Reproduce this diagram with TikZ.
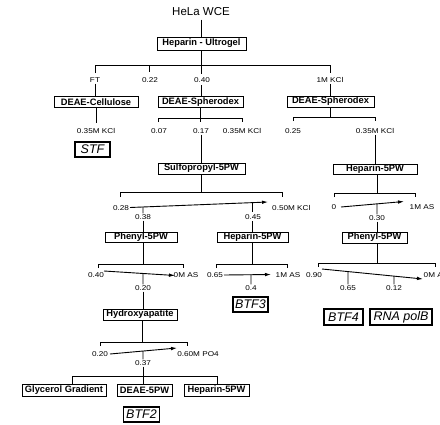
\documentclass[tikz,border=0pt]{standalone}
\usepackage{fontspec}
\setmainfont{Liberation Sans}
\newfontfamily\lblfont[FakeStretch=1.17]{Liberation Sans}
\usetikzlibrary{arrows.meta,calc}
\tikzset{
  col/.style={draw, line width=1pt, inner sep=0pt, minimum height=11pt,
    font=\fontsize{9.3}{10}\selectfont\bfseries},
  fraction/.style={draw, line width=1.4pt, inner sep=0pt, minimum height=15pt,
    font=\fontsize{12.5}{13}\selectfont\itshape},
  lbl/.style={inner sep=1pt, font=\lblfont\fontsize{7}{8}\selectfont},
  link/.style={line width=0.9pt},
  grad/.style={line width=0.9pt, -{Latex[length=6pt,width=3.6pt]}},
}
\begin{document}
\begin{tikzpicture}[x=1pt,y=-1pt]
\useasboundingbox (0,0) rectangle (440,424);

% ---------- extract and first column ----------
\node[font=\fontsize{11.5}{12}\selectfont] (wce) at (201,12) {HeLa WCE};
\node[col, minimum width=89pt, minimum height=13pt] (hu) at (201.5,43.5) {Heparin - Ultrogel};
\draw[link] (wce.south) -- (wce.south |- hu.north);

\coordinate (t1) at (95,65);
\coordinate (t2) at (149,65);
\coordinate (t4) at (330,65);
\draw[link] (hu.south) -- (hu.south |- t1) -- ++(0,9);
\draw[link] ([yshift=-8pt]t1) -- (t1) -- (t4) -- ([yshift=-8pt]t4);
\draw[link] (t2) -- ++(0,7);

\node[lbl] (ft) at (95,80) {FT};
\node[lbl] (l022) at (150,80) {0.22};
\node[lbl] (l040) at (202,80) {0.40};
\node[lbl] (l1m) at (330,80) {1M KCl};

\node[col, minimum width=84pt] (dc) at (96,102) {DEAE-Cellulose};
\node[col, minimum width=85pt] (dsm) at (200.5,102) {DEAE-Spherodex};
\node[col, minimum width=87pt] (dsr) at (330.5,101.5) {DEAE-Spherodex};
\draw[link] (ft.south) -- (ft.south |- dc.north);
\draw[link] (201,85) coordinate (c040) -- (c040 |- dsm.north);
\draw[link] (l1m.south) -- (l1m.south |- dsr.north);

% DEAE-Cellulose flow-through
\node[lbl] (la035) at (96,131) {0.35M KCl};
\draw[link] (dc.south) -- ([yshift=4pt]la035.north);
\node[fraction, minimum width=35pt] (stf) at (92.5,149.5) {STF};

% ---------- middle DEAE-Spherodex ----------
\coordinate (m1) at (158,118);
\coordinate (m3) at (242,118);
\draw[link] (dsm.south) -- (dsm.south |- m1) -- ++(0,4);
\draw[link] ([yshift=-4pt]m1) -- (m1) -- (m3) -- ([yshift=-4pt]m3);
\node[lbl] (l007) at (159,131) {0.07};
\node[lbl] (l017) at (201,131) {0.17};
\node[lbl] (lb035) at (242,131) {0.35M KCl};

\node[col, minimum width=87pt] (sp) at (201.5,168.5) {Sulfopropyl-5PW};
\draw[link] (l017.south) -- (l017.south |- sp.north);

% ---------- right DEAE-Spherodex ----------
\coordinate (r1) at (293,117);
\coordinate (r2) at (375,117);
\draw[link] (dsr.south) -- (dsr.south |- r1);
\draw[link] ([yshift=-4pt]r1) -- (r1) -- (r2) -- ([yshift=-4pt]r2);
\node[lbl] (l025) at (293,131) {0.25};
\node[lbl] (lc035) at (375,131) {0.35M KCl};

\node[col, minimum width=84pt, minimum height=10pt] (hr) at (375,169.5) {Heparin-5PW};
\draw[link] (lc035.south) -- (lc035.south |- hr.north);

% ---------- Sulfopropyl-5PW gradient ----------
\coordinate (s1) at (120,192);
\coordinate (s2) at (282,192);
\draw[link] (sp.south) -- (sp.south |- s1);
\draw[link] ([yshift=-5pt]s1) -- (s1) -- (s2) -- ([yshift=-5pt]s2);
\node[lbl] (l028) at (121,208) {0.28};
\node[lbl, anchor=west] (l050) at (271,208) {0.50M KCl};
\coordinate (ga1s) at (130,207.5);
\coordinate (ga1e) at (268,202);
\draw[grad] (ga1s) -- (ga1e);
\node[lbl] (l038) at (143,217) {0.38};
\node[lbl] (l045) at (253,217) {0.45};
\draw[link] ($(ga1s)!0.094!(ga1e)$) -- (l038.north);
\draw[link] ($(ga1s)!0.884!(ga1e)$) -- ++(0,9);

\node[col, minimum width=72pt, minimum height=10pt] (phl) at (141,237.5) {Phenyl-5PW};
\node[col, minimum width=71pt, minimum height=10pt] (hm) at (252.5,237.5) {Heparin-5PW};
\draw[link] (l038.south) -- (l038.south |- phl.north);
\draw[link] (252,221) coordinate (c045) -- (c045 |- hm.north);

% ---------- right Heparin-5PW gradient ----------
\coordinate (h1) at (334,193);
\coordinate (h2) at (415,193);
\draw[link] (377,174.5) coordinate (chr) -- (chr |- h1);
\draw[link] ([yshift=-4pt]h1) -- (h1) -- (h2) -- ([yshift=-4pt]h2);
\node[lbl] (l0) at (334,207) {0};
\node[lbl] (l1mas) at (422,207) {1M AS};
\coordinate (ga2s) at (341,207);
\coordinate (ga2e) at (404,201.5);
\draw[grad] (ga2s) -- (ga2e);
\node[lbl] (l030) at (377,218) {0.30};
\draw[link] ($(ga2s)!0.571!(ga2e)$) -- (l030.north);

\node[col, minimum width=65pt] (phr) at (374.5,237.5) {Phenyl-5PW};
\draw[link] (l030.south) -- (l030.south |- phr.north);

% ---------- left Phenyl-5PW gradient ----------
\coordinate (p1) at (98,264);
\coordinate (p2) at (183,264);
\draw[link] (143,242.5) coordinate (cphl) -- (cphl |- p1);
\draw[link] ([yshift=-4pt]p1) -- (p1) -- (p2) -- ([yshift=-4pt]p2);
\node[lbl] (l040b) at (96,275.5) {0.40};
\node[lbl] (l0mas) at (186,275.5) {0M AS};
\coordinate (ga3s) at (104,271);
\coordinate (ga3e) at (175,275.5);
\draw[grad] (ga3s) -- (ga3e);
\node[lbl] (l020) at (143,288) {0.20};
\draw[link] ($(ga3s)!0.549!(ga3e)$) -- (l020.north);

\node[col, minimum width=74pt] (hy) at (140,314.5) {Hydroxyapatite};
\draw[link] (l020.south) -- (l020.south |- hy.north);

% ---------- middle Heparin-5PW gradient ----------
\coordinate (q1) at (216,264);
\coordinate (q2) at (287,264);
\draw[link] (hm.south) -- (hm.south |- q1);
\draw[link] ([yshift=-4pt]q1) -- (q1) -- (q2) -- ([yshift=-4pt]q2);
\node[lbl] (l065) at (215,275.5) {0.65};
\node[lbl] (l1mas2) at (288,275.5) {1M AS};
\coordinate (ga4s) at (224,275);
\coordinate (ga4e) at (271,274.5);
\draw[grad] (ga4s) -- (ga4e);
\node[lbl] (l04) at (251,288) {0.4};
\draw[link] ($(ga4s)!0.574!(ga4e)$) -- (l04.north);
\node[fraction, minimum width=35pt] (btf3) at (250.5,304.5) {BTF3};

% ---------- right Phenyl-5PW gradient ----------
\coordinate (u1) at (318,263);
\coordinate (u2) at (435,263);
\draw[link] (377,243) coordinate (cphr) -- (cphr |- u1);
\draw[link] ([yshift=-4pt]u1) -- (u1) -- (u2) -- ([yshift=-4pt]u2);
\node[lbl] (l090) at (314,275) {0.90};
\node[lbl, anchor=west] (l0mas2) at (422.5,275) {0M AS};
\coordinate (ga5s) at (322,269);
\coordinate (ga5e) at (423,279);
\draw[grad] (ga5s) -- (ga5e);
\node[lbl] (l065b) at (348,288) {0.65};
\node[lbl] (l012) at (394,288) {0.12};
\draw[link] ($(ga5s)!0.257!(ga5e)$) -- (l065b.north);
\draw[link] ($(ga5s)!0.713!(ga5e)$) -- (l012.north);
\node[fraction, minimum width=39pt, minimum height=16pt] (btf4) at (343.5,317) {BTF4};
\node[fraction, minimum width=62pt, minimum height=16pt] (rna) at (401,317) {RNA polB};

% ---------- Hydroxyapatite gradient ----------
\coordinate (y1) at (100,342);
\coordinate (y2) at (187,342);
\draw[link] (142,320) coordinate (chy) -- (chy |- y1);
\draw[link] ([yshift=-4pt]y1) -- (y1) -- (y2) -- ([yshift=-4pt]y2);
\node[lbl] (l020b) at (100,354) {0.20};
\node[lbl] (l060) at (198,354) {0.60M PO4};
\coordinate (ga6s) at (110,354);
\coordinate (ga6e) at (177,348);
\draw[grad] (ga6s) -- (ga6e);
\node[lbl] (l037) at (143,363) {0.37};
\draw[link] ($(ga6s)!0.493!(ga6e)$) -- (l037.north);

% ---------- final steps ----------
\node[col, minimum width=84pt, minimum height=12pt] (gg) at (64,390) {Glycerol Gradient};
\node[col, minimum width=55pt, minimum height=12pt] (d5) at (144.5,390) {DEAE-5PW};
\node[col, minimum width=65pt, minimum height=12pt] (h5) at (216.5,390) {Heparin-5PW};
\coordinate (z1) at (72,376);
\coordinate (z2) at (217,376);
\draw[link] (l037.south) -- (l037.south |- z1);
\draw[link] (z1 |- gg.north) -- (z1) -- (z2) -- (z2 |- h5.north);
\draw[link] (143,376) coordinate (cz) -- (cz |- d5.north);
\node[fraction, minimum width=36pt] (btf2) at (141.5,414.5) {BTF2};

\end{tikzpicture}
\end{document}
